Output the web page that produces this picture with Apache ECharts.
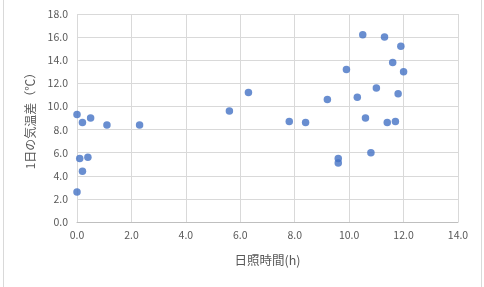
<!DOCTYPE html>
<html>
<head>
<meta charset="utf-8">
<script src="https://cdn.jsdelivr.net/npm/echarts@6/dist/echarts.min.js"></script>
<style>
html,body{margin:0;padding:0;background:#fff;}
#c{width:484px;height:287px;}
</style>
</head>
<body>
<div id="c"></div>
<script>
// Data
const sunshineHours = [0, 0.2, 0.5, 1.1, 2.3, 0.1, 0.4, 0.2, 0, 5.6, 6.3,
  7.8, 8.4, 9.2, 9.9, 9.6, 9.6, 10.3, 10.5, 10.6, 10.8, 11.0, 11.3, 11.4, 11.6, 11.7, 11.8, 11.9, 12.0];
const tempRange = [9.3, 8.6, 9.0, 8.4, 8.4, 5.5, 5.6, 4.4, 2.6, 9.6, 11.2,
  8.7, 8.6, 10.6, 13.2, 5.5, 5.1, 10.8, 16.2, 9.0, 6.0, 11.6, 16.0, 8.6, 13.8, 8.7, 11.1, 15.2, 13.0];
const xTicks = [0, 2, 4, 6, 8, 10, 12, 14];
const yTicks = [0, 2, 4, 6, 8, 10, 12, 14, 16, 18];
const xTitle = '日照時間(h)';
const yTitle = '1日の気温差（℃）';

const points = sunshineHours.map((x, i) => [x, tempRange[i]]);
const chart = echarts.init(document.getElementById('c'), null, {renderer: 'canvas'});
const font = '"Noto Sans CJK JP", "Noto Sans", sans-serif';
chart.setOption({
  animation: false,
  backgroundColor: '#ffffff',
  grid: {left: 77, right: 26, top: 14, bottom: 65, containLabel: false},
  graphic: [
    {type: 'line', shape: {x1: 3.5, y1: 0, x2: 3.5, y2: 287}, style: {stroke: '#d9d9d9', lineWidth: 1}},
    {type: 'line', shape: {x1: 481.5, y1: 0, x2: 481.5, y2: 287}, style: {stroke: '#d9d9d9', lineWidth: 1}}
  ],
  xAxis: {
    type: 'value',
    min: xTicks[0], max: xTicks[xTicks.length - 1], interval: 2,
    name: xTitle, nameLocation: 'middle', nameGap: 32,
    nameTextStyle: {color: '#595959', fontSize: 12.5, fontFamily: font},
    axisLine: {show: true, lineStyle: {color: '#bfbfbf', width: 1}},
    axisTick: {show: false},
    axisLabel: {color: '#595959', fontSize: 10.5, fontFamily: font, margin: 8,
      formatter: v => v.toFixed(1)},
    splitLine: {show: true, lineStyle: {color: '#d9d9d9', width: 1}}
  },
  yAxis: {
    type: 'value',
    min: yTicks[0], max: yTicks[yTicks.length - 1], interval: 2,
    name: yTitle, nameLocation: 'middle', nameGap: 38,
    nameTextStyle: {color: '#595959', fontSize: 12, fontFamily: font},
    axisLine: {show: false},
    axisTick: {show: false},
    axisLabel: {color: '#595959', fontSize: 10.5, fontFamily: font, margin: 9,
      formatter: v => v.toFixed(1)},
    splitLine: {show: true, lineStyle: {color: '#d9d9d9', width: 1}}
  },
  series: [{
    type: 'scatter',
    data: points,
    symbol: 'circle',
    symbolSize: 7.5,
    itemStyle: {color: '#4472c4'}
  }]
});
</script>
</body>
</html>
